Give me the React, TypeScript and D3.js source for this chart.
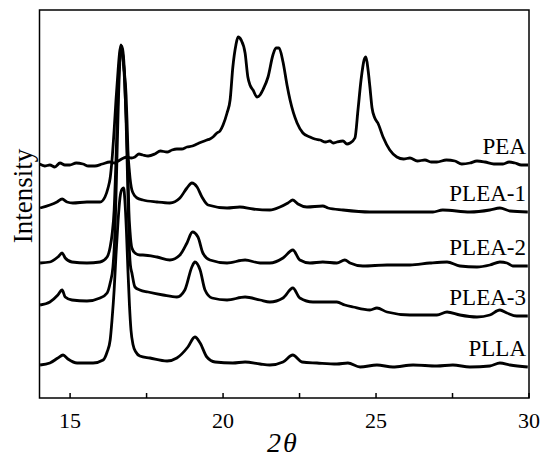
import React from 'react';
import * as d3 from 'd3';

// XRD patterns, [2theta, intensity (a.u., offset stacked)]
const pea: [number, number][] = [
  [14.0, 234], [14.17, 232], [14.34, 233], [14.5, 231], [14.67, 235], [14.83, 233], [14.99, 233],
  [15.2, 235], [15.42, 234], [15.6, 232], [15.81, 232], [16.05, 234], [16.3, 236], [16.45, 235],
  [16.63, 238], [16.75, 240], [16.86, 241], [17.0, 240], [17.12, 241], [17.25, 244], [17.38, 243],
  [17.55, 242], [17.77, 244], [17.95, 247], [18.17, 246], [18.33, 248], [18.49, 249], [18.65, 249],
  [18.82, 251], [19.0, 252], [19.15, 254], [19.3, 256], [19.47, 258], [19.57, 259], [19.67, 261],
  [19.8, 265], [19.9, 267], [20.0, 273], [20.13, 285], [20.23, 298], [20.32, 331], [20.42, 353],
  [20.49, 361], [20.59, 358], [20.72, 345], [20.81, 321], [20.88, 313], [20.98, 308], [21.11, 301],
  [21.21, 303], [21.3, 308], [21.47, 321], [21.63, 343], [21.73, 350], [21.83, 350], [21.96, 336],
  [22.09, 313], [22.19, 298], [22.42, 275], [22.61, 265], [22.84, 261], [23.0, 259], [23.17, 258],
  [23.35, 256], [23.49, 257], [23.6, 255], [23.72, 256], [23.92, 257], [24.05, 254], [24.15, 255],
  [24.31, 260], [24.41, 288], [24.51, 318], [24.61, 338], [24.67, 341], [24.74, 328], [24.8, 311],
  [24.87, 290], [24.96, 280], [25.06, 275], [25.23, 261], [25.45, 248], [25.68, 241], [25.9, 239],
  [26.11, 240], [26.35, 237], [26.6, 238], [26.8, 236], [26.99, 236], [27.3, 238], [27.58, 237],
  [27.8, 234], [28.07, 235], [28.3, 237], [28.56, 236], [28.85, 234], [29.15, 234], [29.35, 236],
  [29.54, 235], [29.75, 233], [29.97, 233],
];

const plea1: [number, number][] = [
  [14.02, 190], [14.34, 193], [14.57, 196], [14.74, 199], [14.9, 196], [15.09, 195], [15.55, 196],
  [15.98, 196], [16.14, 201], [16.24, 210], [16.31, 220], [16.37, 238], [16.44, 268], [16.5, 298],
  [16.57, 328], [16.61, 343], [16.66, 353], [16.71, 346], [16.76, 330], [16.83, 303], [16.86, 278],
  [16.89, 248], [16.94, 226], [17.02, 208], [17.12, 202], [17.19, 200], [17.38, 198], [17.84, 196],
  [18.26, 195], [18.59, 200], [18.82, 210], [18.98, 215], [19.15, 211], [19.31, 201], [19.51, 193],
  [20.13, 190], [20.55, 191], [20.98, 189], [21.53, 188], [21.86, 191], [22.12, 195], [22.28, 198],
  [22.45, 194], [22.74, 191], [23.26, 192], [23.43, 190], [23.92, 188], [24.8, 186], [25.88, 186],
  [26.86, 186], [27.18, 188], [28.07, 186], [28.72, 188], [29.05, 190], [29.38, 187], [29.96, 186],
];

const plea2: [number, number][] = [
  [14.02, 135], [14.34, 136], [14.6, 141], [14.74, 145], [14.84, 140], [15.06, 136], [15.55, 135],
  [15.98, 136], [16.21, 141], [16.31, 151], [16.37, 163], [16.44, 188], [16.5, 238], [16.55, 288],
  [16.6, 328], [16.65, 348], [16.68, 350], [16.73, 340], [16.78, 318], [16.83, 283], [16.88, 238],
  [16.92, 188], [16.96, 166], [17.02, 150], [17.12, 145], [17.28, 143], [17.38, 143], [17.84, 141],
  [18.26, 138], [18.59, 143], [18.82, 155], [19.0, 166], [19.18, 161], [19.34, 145], [19.57, 138],
  [20.13, 135], [20.72, 138], [21.21, 135], [21.53, 135], [21.96, 140], [22.28, 148], [22.51, 138],
  [22.84, 135], [23.26, 136], [23.72, 135], [23.98, 138], [24.15, 135], [24.57, 132], [25.36, 133],
  [26.11, 133], [26.76, 135], [27.32, 136], [27.74, 132], [28.3, 131], [28.72, 133], [29.05, 136],
  [29.28, 135], [29.47, 132], [29.96, 132],
];

const plea3: [number, number][] = [
  [14.02, 93], [14.34, 96], [14.6, 103], [14.74, 108], [14.84, 101], [15.06, 98], [15.55, 97],
  [15.98, 100], [16.21, 105], [16.31, 115], [16.4, 131], [16.47, 168], [16.53, 238], [16.58, 298],
  [16.63, 338], [16.68, 352], [16.73, 346], [16.78, 323], [16.83, 278], [16.88, 218], [16.92, 163],
  [16.97, 133], [17.02, 125], [17.12, 111], [17.28, 108], [17.55, 106], [18.04, 103], [18.49, 101],
  [18.75, 108], [18.98, 131], [19.08, 136], [19.25, 128], [19.41, 108], [19.64, 100], [20.13, 98],
  [20.72, 101], [21.21, 98], [21.53, 96], [21.96, 100], [22.28, 110], [22.51, 100], [22.94, 96],
  [23.72, 96], [23.98, 93], [24.25, 91], [24.8, 88], [25.03, 90], [25.36, 86], [26.11, 83],
  [26.99, 83], [27.32, 86], [27.74, 83], [28.3, 81], [28.72, 83], [29.05, 88], [29.28, 85],
  [29.6, 82], [29.96, 82],
];

const plla: [number, number][] = [
  [14.02, 33], [14.34, 35], [14.6, 40], [14.77, 43], [14.93, 39], [15.23, 35], [15.75, 35],
  [16.08, 38], [16.21, 46], [16.31, 58], [16.37, 78], [16.44, 108], [16.5, 143], [16.57, 178],
  [16.63, 200], [16.7, 209], [16.75, 210], [16.79, 198], [16.84, 168], [16.89, 128], [16.94, 93],
  [16.99, 68], [17.06, 53], [17.15, 46], [17.28, 42], [17.61, 40], [18.17, 37], [18.49, 40],
  [18.85, 51], [19.08, 61], [19.25, 55], [19.47, 41], [19.74, 36], [20.32, 35], [20.72, 36],
  [21.21, 34], [21.53, 33], [21.96, 36], [22.28, 43], [22.58, 36], [23.07, 35], [23.72, 34],
  [24.08, 35], [24.48, 31], [25.03, 33], [25.55, 31], [26.21, 33], [26.99, 32], [27.51, 33],
  [28.07, 31], [28.72, 32], [29.05, 35], [29.38, 33], [29.96, 31],
];

const seriesNames = ['PEA', 'PLEA-1', 'PLEA-2', 'PLEA-3', 'PLLA'];
const seriesData = [pea, plea1, plea2, plea3, plla];

const majorTicks = [15, 20, 25, 30];
const minorTicks = [17.5, 22.5, 27.5];

const W = 541;
const H = 459;
const margin = { top: 10, right: 12, bottom: 61, left: 39.5 };
const font = '"Liberation Serif", "Times New Roman", serif';

const App = () => {
  const x = d3.scaleLinear().domain([14, 30]).range([margin.left, W - margin.right]);
  const y = d3.scaleLinear().domain([0, 388]).range([H - margin.bottom, margin.top]);
  const line = d3
    .line<[number, number]>()
    .x(d => x(d[0]))
    .y(d => y(d[1]))
    .curve(d3.curveMonotoneX);

  const bottom = H - margin.bottom;

  return (
    <svg
      width={W}
      height={H}
      style={{ position: 'absolute', left: 0, top: 0, background: '#fff' }}
    >
      <defs>
        <clipPath id="plot">
          <rect x={margin.left} y={margin.top} width={W - margin.right - margin.left} height={bottom - margin.top} />
        </clipPath>
      </defs>

      <g clipPath="url(#plot)">
        {seriesData.map((d, i) => (
          <path
            key={seriesNames[i]}
            d={line(d) || ''}
            fill="none"
            stroke="#000"
            strokeWidth={2.8}
            strokeLinejoin="round"
          />
        ))}
      </g>

      {/* frame */}
      <rect
        x={margin.left}
        y={margin.top}
        width={W - margin.right - margin.left}
        height={bottom - margin.top}
        fill="none"
        stroke="#000"
        strokeWidth={1.5}
      />

      {/* inward ticks */}
      {[...majorTicks, ...minorTicks].map(t => (
        <line key={t} x1={x(t)} x2={x(t)} y1={bottom} y2={bottom - 5} stroke="#000" strokeWidth={1.5} />
      ))}
      {majorTicks.map(t => (
        <text key={t} x={x(t)} y={428} textAnchor="middle" fontFamily={font} fontSize={22}>
          {t}
        </text>
      ))}

      {/* series labels */}
      {seriesData.map((d, i) => (
        <text
          key={seriesNames[i]}
          x={W - margin.right - 3}
          y={y(d[d.length - 1][1]) - 11.5}
          textAnchor="end"
          fontFamily={font}
          fontSize={23}
        >
          {seriesNames[i]}
        </text>
      ))}

      <text
        transform="translate(32,196) rotate(-90)"
        textAnchor="middle"
        fontFamily={font}
        fontSize={27}
      >
        Intensity
      </text>
      <text x={283} y={452} textAnchor="middle" fontFamily={font} fontStyle="italic" fontSize={28} letterSpacing={2}>
        2θ
      </text>
    </svg>
  );
};

export default App;
